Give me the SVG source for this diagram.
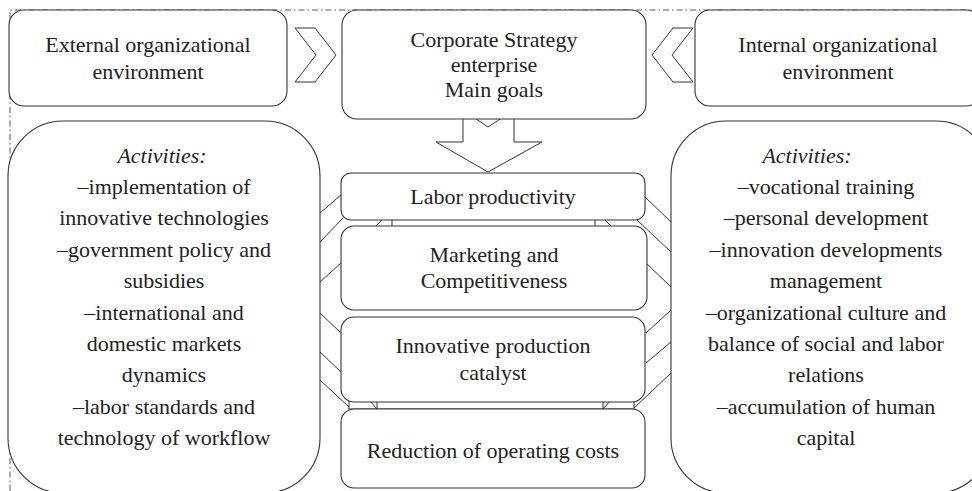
<svg xmlns="http://www.w3.org/2000/svg" width="972" height="491" viewBox="0 0 972 491">
<style>
.box{fill:#fff;stroke:#333;stroke-width:1.1}
.ln{fill:none;stroke:#333;stroke-width:1}
.sh{fill:#fff;stroke:#333;stroke-width:1}
.frame{fill:none;stroke:#444;stroke-width:0.9;stroke-dasharray:6 3 1.5 3}
text{font-family:"Liberation Serif","Times New Roman",serif;font-size:22px;fill:#222;text-anchor:middle}
.it{font-style:italic}
</style>
<rect width="972" height="491" fill="#fff"/>
<path class="frame" d="M10,491 V10 H972"/>
<g id="connectors">
  <path class="sh" d="M295,28 H315 L336,55 L315,82 H295 L316,55 Z"/>
  <path class="sh" d="M693,28 H673 L652,55 L673,82 H693 L672,55 Z"/>
  <path class="sh" d="M463,110 L488,127 L514,110 V142 H542 L488,172 L436,142 H463 Z"/>
  <rect class="sh" x="349" y="401" width="285" height="8"/>
  <path class="ln" d="M370,401 L377,409 M377,401 V409 M603,401 V409 M603,409 L610,401"/>
  <path class="ln" d="M376,226 L382,220 M392,219 V226 M595,219 V226 M605,220 L611,226"/>
  <path class="ln" d="M320,213 L342,194 M320,242 L343,218 M320,282 L342,262 M320,313 L342,334 M320,352 L342,373 M320,380 L349,407"/>
  <path class="ln" d="M645,197 L671,222 M637,220 L671,252 M646,263 L671,287 M646,333 L671,310 M646,363 L671,342 M634,408 L671,373"/>
</g>
<g id="external"><rect class="box" x="9" y="10" width="278" height="96" rx="15"/><text x="148" y="52">External organizational</text><text x="148" y="79">environment</text></g>
<g id="strategy"><rect class="box" x="342" y="10" width="304" height="109" rx="15"/><text x="494" y="47">Corporate Strategy</text><text x="494" y="72">enterprise</text><text x="494" y="97">Main goals</text></g>
<g id="internal"><rect class="box" x="695" y="10" width="286" height="96" rx="15"/><text x="838" y="52">Internal organizational</text><text x="838" y="79">environment</text></g>
<g id="ext-activities"><rect class="box" x="8" y="121" width="312" height="372" rx="55"/>
<text class="it" x="162" y="163">Activities:</text>
<text x="164" y="194">–implementation of</text>
<text x="164" y="225">innovative technologies</text>
<text x="164" y="257">–government policy and</text>
<text x="164" y="288">subsidies</text>
<text x="164" y="320">–international and</text>
<text x="164" y="351">domestic markets</text>
<text x="164" y="382">dynamics</text>
<text x="164" y="414">–labor standards and</text>
<text x="164" y="445">technology of workflow</text>
</g>
<g id="int-activities"><rect class="box" x="671" y="121" width="320" height="372" rx="55"/>
<text class="it" x="807" y="163">Activities:</text>
<text x="826" y="194">–vocational training</text>
<text x="826" y="225">–personal development</text>
<text x="826" y="257">–innovation developments</text>
<text x="826" y="288">management</text>
<text x="826" y="320">–organizational culture and</text>
<text x="826" y="351">balance of social and labor</text>
<text x="826" y="382">relations</text>
<text x="826" y="414">–accumulation of human</text>
<text x="826" y="445">capital</text>
</g>
<g id="labor"><rect class="box" x="341" y="173" width="304" height="47" rx="10"/><text x="493" y="204">Labor productivity</text></g>
<g id="marketing"><rect class="box" x="341" y="226" width="306" height="84" rx="13"/><text x="494" y="262">Marketing and</text><text x="494" y="288">Competitiveness</text></g>
<g id="innovative"><rect class="box" x="341" y="317" width="304" height="85" rx="13"/><text x="493" y="353">Innovative production</text><text x="493" y="380">catalyst</text></g>
<g id="reduction"><rect class="box" x="341" y="409" width="304" height="79" rx="13"/><text x="493" y="458">Reduction of operating costs</text></g>
</svg>
